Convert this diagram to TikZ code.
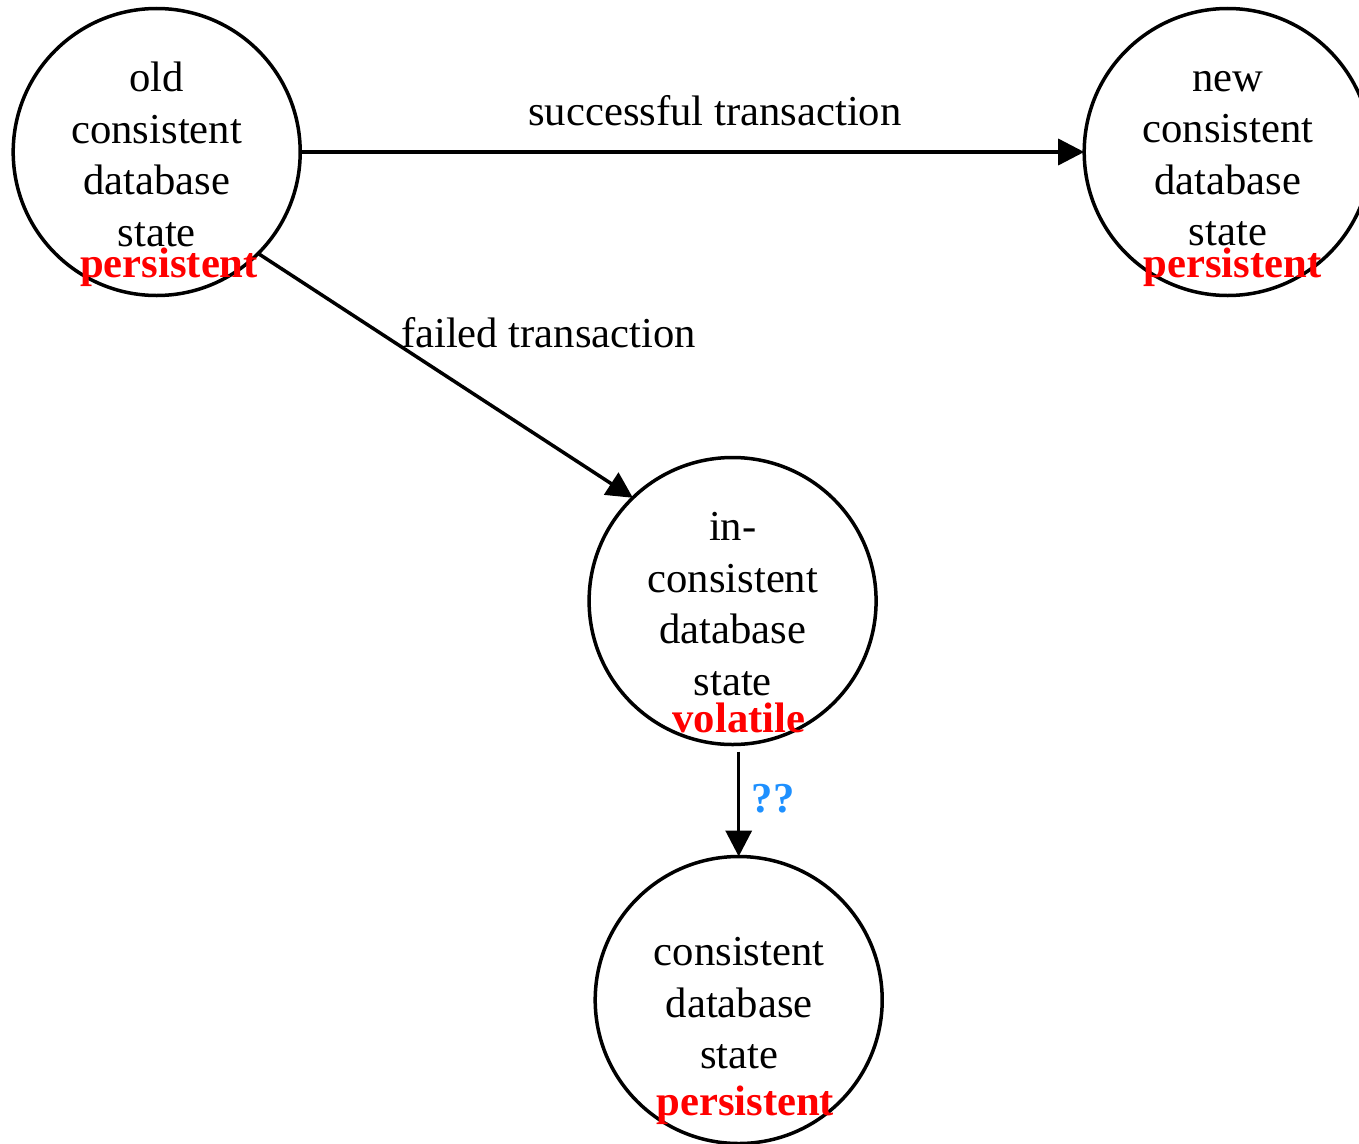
\documentclass[tikz,border=0pt]{standalone}
\usepackage{fontspec}
\setmainfont{Liberation Serif}
\usetikzlibrary{arrows.meta}

\definecolor{tagred}{RGB}{255,0,0}
\definecolor{qblue}{RGB}{30,144,255}

% multi-line label whose baseline is that of its first line
\newcommand{\stack}[1]{\begin{tabular}[t]{@{}c@{}}#1\end{tabular}}

\tikzset{
  dbstate/.style={circle, draw, line width=3.5pt, minimum size=287pt,
                  inner sep=0pt, outer sep=0pt},
  bigfont/.style={font=\fontsize{42.67}{51.5}\selectfont},
  body/.style={bigfont, anchor=base, inner sep=0pt},
  tag/.style={font=\fontsize{42.67}{51.5}\selectfont\bfseries, text=tagred,
              anchor=base, inner sep=0pt},
  flow/.style={line width=3.5pt, -{Triangle[length=26pt,width=26pt]}},
  edgetext/.style={bigfont, anchor=base, inner sep=0pt},
}

\begin{document}
\begin{tikzpicture}[x=1pt, y=-1pt]
  \useasboundingbox (0,0) rectangle (1359,1143);
  \clip (0,0) rectangle (1359,1143);

  % states
  \node[dbstate] (old) at (156.7,152) {};
  \node[dbstate] (new) at (1227.7,152) {};
  \node[dbstate] (mid) at (732.6,601) {};
  \node[dbstate] (bot) at (738.7,1000) {};

  % state descriptions
  \node[body] (oldtxt) at (156.7,91.5) {\stack{old\\consistent\\database\\state}};
  \node[body] (newtxt) at (1228,91.2) {\stack{new\\consistent\\database\\state}};
  \node[body] (midtxt) at (732.8,540.8) {\stack{in-\\consistent\\database\\state}};
  \node[body] (bottxt) at (739.2,965.8) {\stack{consistent\\database\\state}};

  % persistence tags
  \node[tag] (oldtag) at (169,277.3) {persistent};
  \node[tag] (newtag) at (1232.5,277) {persistent};
  \node[tag] (midtag) at (739,732.3) {volatile};
  \node[tag] (bottag) at (745.3,1115.6) {persistent};

  % transitions
  \coordinate (recov) at (738.7,751.7);
  \draw[flow] (old.east) -- (new.west);
  \draw[flow] (old.-45) -- (mid.134.3);
  \draw[flow] (recov) -- (bot.north);

  % transition labels
  \node[edgetext] (succ) at (715,125) {successful transaction};
  \node[edgetext] (fail) at (548.5,347.3) {failed transaction};
  \node[edgetext, font=\fontsize{42.67}{51.5}\selectfont\bfseries, text=qblue]
    (unknown) at (773,812.3) {??};
\end{tikzpicture}
\end{document}
